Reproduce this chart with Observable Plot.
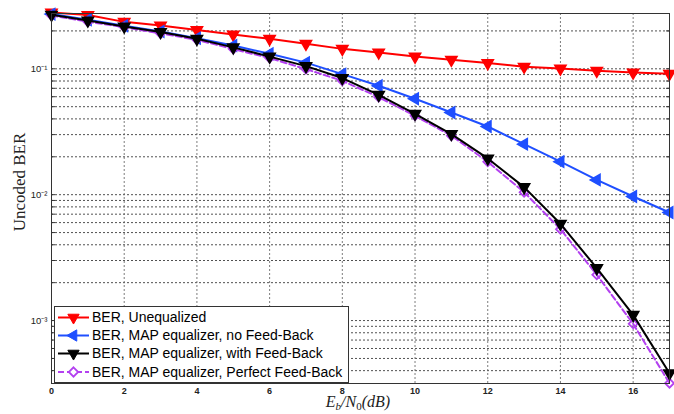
<!DOCTYPE html>
<html><head><meta charset="utf-8">
<script src="https://cdn.jsdelivr.net/npm/d3@7"></script>
<script src="https://cdn.jsdelivr.net/npm/@observablehq/plot@0.6"></script>
<style>body{margin:0;background:#fff} svg{display:block}</style>
</head><body><div id="chart"></div>
<script>
// ---- data ----
const ebn0 = [0,1,2,3,4,5,6,7,8,9,10,11,12,13,14,15,16,17];
const berUnequalized = [0.28,0.268,0.236,0.221,0.203,0.187,0.173,0.158,0.144,0.135,0.125,0.118,0.111,0.104,0.1006,0.0964,0.0935,0.0913];
const berMapNoFb = [0.272,0.245,0.220,0.198,0.175,0.153,0.1316,0.112,0.0907,0.0733,0.0578,0.045,0.0348,0.0252,0.0183,0.0131,0.00967,0.00722];
const berMapWithFb = [0.269,0.242,0.217,0.196,0.173,0.148,0.125,0.105,0.0844,0.0621,0.0439,0.0303,0.0194,0.01148,0.00587,0.00261,0.00111,0.000382];
const berMapPerfectFb = [0.265,0.2365,0.2143,0.191,0.170,0.1434,0.1217,0.0994,0.0803,0.0596,0.0423,0.0294,0.01824,0.01047,0.00532,0.00231,0.000942,0.000318];
const seriesNames = ["BER, Unequalized","BER, MAP equalizer, no Feed-Back","BER, MAP equalizer, with Feed-Back","BER, MAP equalizer, Perfect Feed-Back"];
const seriesColors = ["#ff0000","#1f4fff","#000000","#b340f0"];
const xTickValues = [0,2,4,6,8,10,12,14,16];
const yDecades = [1e-3,1e-2,1e-1];
const yDecadeLabels = ["10\u207B\u00B3","10\u207B\u00B2","10\u207B\u00B9"];
const yGridValues = [4e-4,5e-4,6e-4,7e-4,8e-4,9e-4,1e-3,2e-3,3e-3,4e-3,5e-3,6e-3,7e-3,8e-3,9e-3,1e-2,2e-2,3e-2,4e-2,5e-2,6e-2,7e-2,8e-2,9e-2,0.1,0.2];
const xLabelParts = ["E","b","/N","0","(dB)"];
const yLabel = "Uncoded BER";

const seriesValues = [berUnequalized, berMapNoFb, berMapWithFb, berMapPerfectFb];
const rows = seriesValues.flatMap((vals, i) => vals.map((v, j) => ({x: ebn0[j], y: v, s: seriesNames[i]})));
const bySeries = i => rows.filter(r => r.s === seriesNames[i]);

const W = 674, H = 414;
const plot = Plot.plot({
  width: W, height: H,
  marginLeft: 51, marginRight: 5, marginTop: 13, marginBottom: 31,
  style: {background: "#fff", fontFamily: "Liberation Sans, Arial, sans-serif"},
  x: {domain: [0, 17], label: null},
  y: {type: "log", domain: [Math.pow(10, -3.5), 0.275], label: null},
  marks: [
    Plot.ruleY(yGridValues, {stroke: "#333", strokeWidth: 1, strokeDasharray: "2,2", strokeOpacity: 0.85}),
    Plot.ruleX(xTickValues.filter(d => d > 0), {stroke: "#666", strokeWidth: 1, strokeDasharray: "2,2", strokeOpacity: 0.85}),
    Plot.axisX(xTickValues, {tickSize: 0, tickPadding: 4, fontSize: 9, fontWeight: "bold", fill: "#222", label: null}),
    Plot.axisY(yDecades, {tickSize: 0, tickPadding: 4, fontSize: 9.5, fill: "#222", label: null,
      tickFormat: d => yDecadeLabels[yDecades.indexOf(d)]}),
    Plot.axisY(yGridValues, {anchor: "left", tickSize: -4, tickFormat: () => "", stroke: "#333", label: null}),
    Plot.axisY(yGridValues, {anchor: "right", tickSize: -4, tickFormat: () => "", stroke: "#333", label: null}),
    Plot.line(bySeries(0), {x: "x", y: "y", stroke: seriesColors[0], strokeWidth: 2}),
    Plot.dot(bySeries(0), {x: "x", y: "y", symbol: "triangle", rotate: 180, r: 4.2, fill: seriesColors[0], stroke: seriesColors[0]}),
    Plot.line(bySeries(1), {x: "x", y: "y", stroke: seriesColors[1], strokeWidth: 2}),
    Plot.dot(bySeries(1), {x: "x", y: "y", symbol: "triangle", rotate: -90, r: 4.2, fill: seriesColors[1], stroke: seriesColors[1]}),
    Plot.line(bySeries(3), {x: "x", y: "y", stroke: seriesColors[3], strokeWidth: 2, strokeDasharray: "6,3"}),
    Plot.dot(bySeries(3), {x: "x", y: "y", symbol: "diamond2", r: 4, fill: "none", stroke: seriesColors[3], strokeWidth: 1.8}),
    Plot.line(bySeries(2), {x: "x", y: "y", stroke: seriesColors[2], strokeWidth: 2}),
    Plot.dot(bySeries(2), {x: "x", y: "y", symbol: "triangle", rotate: 180, r: 4.2, fill: seriesColors[2], stroke: seriesColors[2]}),
    Plot.frame({stroke: "#333", strokeWidth: 1})
  ]
});
document.getElementById("chart").appendChild(plot);

const svg = d3.select(plot);
// x label with subscripts
const xl = svg.append("text").attr("x", 358).attr("y", 407).attr("text-anchor", "middle")
  .attr("font-family", "Liberation Serif, DejaVu Serif, serif").attr("font-size", 16).attr("font-style", "italic").attr("fill", "#222");
xl.append("tspan").text(xLabelParts[0]);
xl.append("tspan").attr("font-size", 11).attr("dy", 2.5).text(xLabelParts[1]);
xl.append("tspan").attr("dy", -2.5).text(xLabelParts[2]);
xl.append("tspan").attr("font-size", 11).attr("font-style", "normal").attr("dy", 2.5).text(xLabelParts[3]);
xl.append("tspan").attr("dy", -2.5).text(xLabelParts[4]);
// y label
svg.append("text").attr("transform", "translate(25,182) rotate(-90)").attr("text-anchor", "middle")
  .attr("font-family", "Liberation Serif, DejaVu Serif, serif").attr("font-size", 17).attr("fill", "#222").text(yLabel);

// legend
const lg = svg.append("g").attr("text-anchor", "start");
lg.append("rect").attr("x", 54.5).attr("y", 306.5).attr("width", 294).attr("height", 76).attr("fill", "#fff").attr("stroke", "#333");
const rowY = [317.5, 335.5, 353.5, 372];
const sym = [
  {type: d3.symbolTriangle, rot: 180, fill: true},
  {type: d3.symbolTriangle, rot: -90, fill: true},
  {type: d3.symbolTriangle, rot: 180, fill: true},
  {type: d3.symbolDiamond2, rot: 0, fill: false}
];
seriesNames.forEach((name, i) => {
  const y = rowY[i];
  lg.append("line").attr("x1", 58).attr("x2", 89).attr("y1", y).attr("y2", y)
    .attr("stroke", seriesColors[i]).attr("stroke-width", 2).attr("stroke-dasharray", i === 3 ? "6,3" : null);
  lg.append("path").attr("d", d3.symbol(sym[i].type, Math.PI * 4.2 * 4.2)())
    .attr("transform", `translate(73.5,${y}) rotate(${sym[i].rot})`)
    .attr("fill", sym[i].fill ? seriesColors[i] : "#fff").attr("stroke", seriesColors[i]).attr("stroke-width", sym[i].fill ? 1 : 1.8);
  lg.append("text").attr("x", 92).attr("y", y).attr("dy", "0.35em").attr("text-anchor", "start")
    .attr("font-family", "Liberation Sans, Arial, sans-serif")
    .attr("font-size", 14).attr("fill", "#000").text(name);
});
</script></body></html>
